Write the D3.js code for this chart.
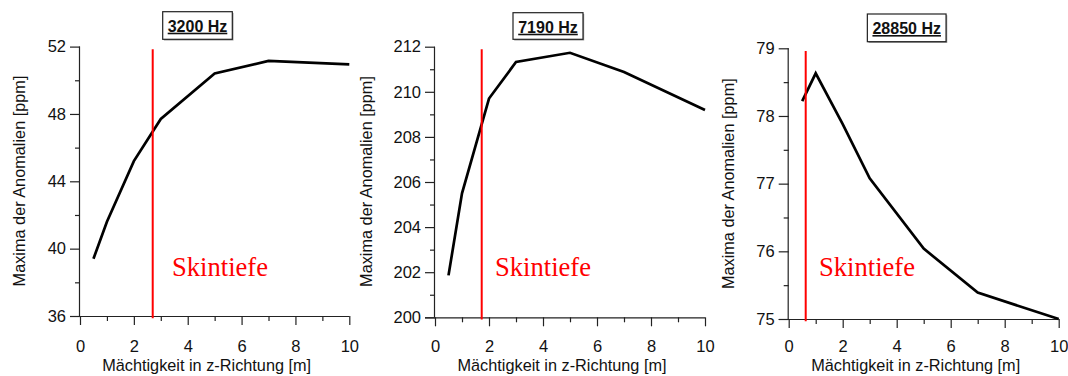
<!DOCTYPE html>
<html>
<head>
<meta charset="utf-8">
<script src="https://cdn.jsdelivr.net/npm/d3@7"></script>
<style>
  html, body { margin: 0; padding: 0; background: #fff; }
  svg { display: block; }
  text { font-family: "Liberation Sans", Arial, sans-serif; }
  text.skin { font-family: "Liberation Serif", "Times New Roman", serif; }
</style>
</head>
<body>
<svg id="chart" width="1068" height="376"></svg>
<script>
// Thickness of the layer (m)
const thickness = [0.5, 1, 2, 3, 5, 7, 10];

// Maximum anomaly per frequency (ppm)
const maxima3200 = [39.4, 41.6, 45.2, 47.7, 50.4, 51.15, 50.95];
const maxima7190 = [201.86, 205.5, 209.7, 211.32, 211.73, 210.88, 209.19];
const maxima28850 = [78.22, 78.63, 77.88, 77.08, 76.04, 75.39, 75.0];

// Skin depth per frequency (m)
const skinDepths = [2.7, 1.73, 0.63];

const frequencyLabels = ["3200 Hz", "7190 Hz", "28850 Hz"];
const xTicks = [0, 2, 4, 6, 8, 10];
const yTicks3200 = [36, 40, 44, 48, 52];
const yTicks7190 = [200, 202, 204, 206, 208, 210, 212];
const yTicks28850 = [75, 76, 77, 78, 79];

const xLabel = "Mächtigkeit in z-Richtung [m]";
const yLabel = "Maxima der Anomalien [ppm]";
const skinLabel = "Skintiefe";

// Panel layout
const panels = [
  { values: maxima3200, ticks: yTicks3200, minorStep: 2, domain: [36, 52],
    left: 80, right: 349.3, top: 46.6, bottom: 316,
    box: { cx: 197.5, top: 11.7, w: 69.6, h: 27.6 },
    skinTextX: 172, yTitleX: 25, yTitleY: 181 },
  { values: maxima7190, ticks: yTicks7190, minorStep: 1, domain: [200, 212],
    left: 435, right: 705, top: 46.7, bottom: 317.3,
    box: { cx: 548, top: 12.7, w: 70, h: 26.6 },
    skinTextX: 495, yTitleX: 371.7, yTitleY: 181.5 },
  { values: maxima28850, ticks: yTicks28850, minorStep: 0.5, domain: [75, 79],
    left: 788.7, right: 1058.7, top: 48.3, bottom: 319,
    box: { cx: 906.7, top: 14, w: 78.7, h: 27.7 },
    skinTextX: 819, yTitleX: 734.3, yTitleY: 183.7 }
];

const svg = d3.select("#chart");

panels.forEach((p, i) => {
  const g = svg.append("g");
  const x = d3.scaleLinear().domain([0, 10]).range([p.left, p.right]);
  const y = d3.scaleLinear().domain(p.domain).range([p.bottom, p.top]);

  // Minor ticks
  const xMinor = d3.range(1, 10, 2);
  const yMinor = d3.range(p.domain[0] + p.minorStep, p.domain[1], p.minorStep)
    .filter(v => !p.ticks.some(t => Math.abs(t - v) < 1e-9));

  // X axis
  const xAxis = g.append("g").attr("transform", `translate(0,${p.bottom})`)
    .call(d3.axisBottom(x).tickValues(xTicks).tickSize(9).tickPadding(16).tickFormat(d3.format("d")));
  xAxis.select(".domain").attr("d", `M${p.left - 10},0.5H${p.right}`);
  xAxis.selectAll(".tick text").attr("dy", null).attr("y", 352.3 - p.bottom);
  g.append("g").attr("transform", `translate(0,${p.bottom})`)
    .call(d3.axisBottom(x).tickValues(xMinor).tickSize(5).tickFormat(""))
    .select(".domain").remove();

  // Y axis
  const yAxis = g.append("g").attr("transform", `translate(${p.left},0)`)
    .call(d3.axisLeft(y).tickValues(p.ticks).tickSize(10).tickPadding(4).tickFormat(d3.format("d")));
  yAxis.select(".domain").attr("d", `M-0.5,${p.top}V${p.bottom}`);
  g.append("g").attr("transform", `translate(${p.left},0)`)
    .call(d3.axisLeft(y).tickValues(yMinor).tickSize(5).tickFormat(""))
    .select(".domain").remove();

  g.selectAll(".tick text")
    .attr("font-size", 16.5).attr("fill", "#111")
    .attr("font-family", null);
  g.selectAll(".domain, .tick line").attr("stroke", "#222").attr("stroke-width", 1.2);

  // Axis titles
  g.append("text")
    .attr("x", (p.left + p.right) / 2 - 8).attr("y", 371.3)
    .attr("text-anchor", "middle").attr("font-size", 16.3).attr("fill", "#111")
    .text(xLabel);
  g.append("text")
    .attr("transform", `translate(${p.yTitleX},${p.yTitleY}) rotate(-90)`)
    .attr("text-anchor", "middle").attr("font-size", 16.3).attr("fill", "#111")
    .text(yLabel);

  // Frequency title box
  g.append("rect")
    .attr("x", p.box.cx - p.box.w / 2 + 1.2).attr("y", p.box.top + 1.2)
    .attr("width", p.box.w).attr("height", p.box.h)
    .attr("fill", "#999");
  g.append("rect")
    .attr("x", p.box.cx - p.box.w / 2).attr("y", p.box.top)
    .attr("width", p.box.w).attr("height", p.box.h)
    .attr("fill", "#fff").attr("stroke", "#222").attr("stroke-width", 1.2);
  g.append("text")
    .attr("x", p.box.cx).attr("y", p.box.top + 20)
    .attr("text-anchor", "middle").attr("font-size", 16).attr("font-weight", "bold")
    .attr("text-decoration", "underline").attr("fill", "#111")
    .text(frequencyLabels[i]);

  // Curve of anomaly maxima
  const line = d3.line().x((d, j) => x(thickness[j])).y(d => y(d));
  g.append("path")
    .datum(p.values)
    .attr("d", line)
    .attr("fill", "none").attr("stroke", "#000").attr("stroke-width", 2.7)
    .attr("stroke-linejoin", "miter");

  // Skin depth marker
  g.append("line")
    .attr("x1", x(skinDepths[i])).attr("x2", x(skinDepths[i]))
    .attr("y1", p.bottom + 2.3).attr("y2", p.top + 2.6)
    .attr("stroke", "#ff0000").attr("stroke-width", 2);
  g.append("text")
    .attr("class", "skin")
    .attr("x", p.skinTextX).attr("y", 276)
    .attr("font-size", 26.6).attr("fill", "#ff0000")
    .text(skinLabel);
});
</script>
</body>
</html>
